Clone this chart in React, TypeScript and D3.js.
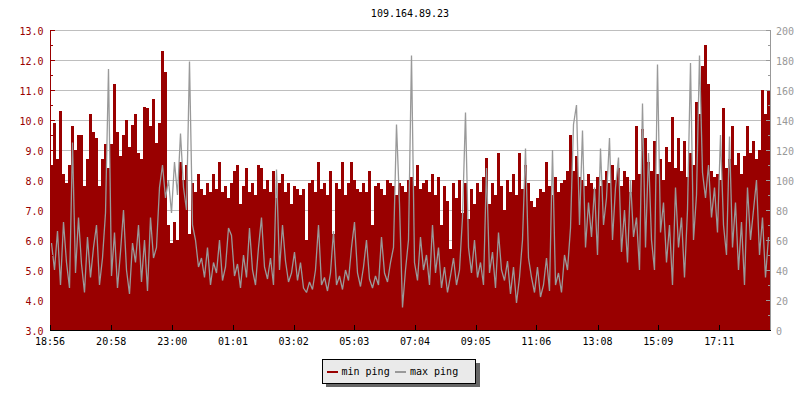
import React from "react";
import * as d3 from "d3";

const title = "109.164.89.23";
const startTime = new Date(2021, 0, 1, 18, 56);
const spanMinutes = 1436;
const xTickMinutes = [0, 122, 244, 365, 486, 607, 728, 849, 970, 1092, 1213, 1335];
const leftTicks = [3, 4, 5, 6, 7, 8, 9, 10, 11, 12, 13];
const rightTicks = [0, 20, 40, 60, 80, 100, 120, 140, 160, 180, 200];
const seriesNames = ["min ping", "max ping"];

// min ping (left axis, ms)
const minPing = [
  8.5, 9.9, 8.7, 10.3, 8.2, 7.9, 8.5, 9.8, 9.0, 9.5,
  9.5, 7.8, 8.7, 10.2, 9.6, 9.4, 7.8, 8.7, 9.2, 8.4,
  9.2, 11.2, 9.6, 8.8, 9.5, 10.0, 9.1, 9.85, 10.2, 8.9,
  8.7, 10.45, 10.4, 9.8, 10.7, 9.25, 9.9, 12.3, 11.6, 6.5,
  5.9, 6.6, 6.0, 8.6, 8.0, 8.5, 6.2, 7.9, 7.6, 8.2,
  7.7, 7.5, 7.9, 7.6, 8.2, 7.7, 8.6, 7.6, 7.8, 7.4,
  7.9, 8.3, 8.5, 7.2, 7.8, 8.4, 7.6, 7.9, 7.5, 8.5,
  8.4, 7.7, 8.0, 7.6, 8.3, 7.4, 7.9, 8.2, 7.6, 7.9,
  7.2, 7.8, 7.7, 7.5, 7.7, 6.0, 7.9, 8.0, 7.6, 8.6,
  7.7, 7.9, 7.5, 8.3, 6.2, 7.9, 7.7, 8.6, 7.5, 7.9,
  8.6, 8.0, 7.7, 7.6, 7.9, 7.6, 8.3, 6.5, 7.8, 7.9,
  7.7, 7.5, 8.0, 7.9, 7.8, 7.5, 7.9, 7.8, 7.6, 8.0,
  8.1, 7.8, 8.5, 7.7, 7.9, 8.0, 7.6, 8.2, 7.5, 8.1,
  6.5, 7.8, 7.3, 5.7, 7.9, 7.4, 8.0, 6.9, 7.9, 6.7,
  7.7, 7.2, 7.9, 7.6, 8.1, 8.75, 7.2, 7.9, 7.5, 8.9,
  7.8, 7.0, 8.0, 7.6, 8.2, 7.5, 8.9, 7.7, 8.5, 7.9,
  7.3, 7.1, 7.4, 7.7, 7.6, 8.6, 7.8, 7.5, 8.1, 7.6,
  7.9, 8.0, 8.3, 9.5, 8.3, 8.8, 8.1, 8.0, 7.8, 8.2,
  7.9, 7.7, 8.1, 7.8, 8.0, 8.3, 7.9, 8.5, 8.0, 8.4,
  7.8, 8.3, 8.1, 7.6, 8.0, 9.8, 8.2, 9.7, 9.4, 8.6,
  8.3, 9.3, 8.2, 8.7, 8.0, 9.1, 8.6, 10.1, 8.4, 9.4,
  8.3, 9.3, 8.1, 8.9, 8.5, 10.6, 10.2, 11.8, 12.5, 11.2,
  8.3, 8.1, 8.2, 8.0, 10.4, 8.4, 8.7, 9.8, 8.5, 8.9,
  8.2, 8.8, 9.8, 8.9, 9.3, 8.7, 9.0, 11.0, 10.2, 11.0,
];

// max ping (right axis, ms)
const maxPing = [
  58, 40, 66, 30, 72, 45, 28, 125, 38, 75,
  44, 25, 62, 35, 55, 70, 30, 48, 78, 174,
  36, 65, 28, 52, 80, 40, 24, 58, 45, 70,
  32, 60, 26, 75, 48, 55, 95, 110, 88, 100,
  78, 112, 90, 131, 95, 80, 179, 70, 60, 42,
  48, 35, 55, 30, 45, 38, 60, 33, 42, 68,
  63, 36, 44, 28, 50, 35, 68, 40, 30, 55,
  75, 42, 34, 48, 30, 107, 40, 70, 46, 32,
  38, 52, 33, 45, 28, 25, 32, 27, 40, 70,
  30, 35, 26, 38, 66, 30, 36, 27, 40, 33,
  55, 72, 38, 29, 42, 60, 34, 28, 36, 30,
  62, 38, 32, 45, 55, 137, 84, 15, 40, 60,
  183, 45, 33, 62, 40, 50, 30, 70, 38, 55,
  28, 42, 25, 36, 48, 30, 40, 75, 145, 55,
  38, 60, 35, 45, 30, 108, 38, 52, 28, 65,
  40, 33, 46, 24, 42, 18, 35, 60, 121, 48,
  35, 25, 42, 22, 30, 48, 26, 120, 30, 38,
  25, 50, 40, 68, 137, 150, 70, 133, 55, 85,
  62, 95, 50, 121, 70, 88, 128, 60, 95, 115,
  52, 80, 45, 100, 62, 75, 40, 151, 55, 118,
  60, 40, 177, 65, 85, 45, 70, 30, 95, 55,
  75, 35, 80, 178, 60, 90, 183, 105, 88, 110,
  75, 95, 65, 130, 70, 50, 129, 55, 85, 40,
  72, 30, 95, 60, 80, 100, 50, 75, 35, 62,
];

const RED = "#990000";
const GRAY = "#999999";
const FONT = "'DejaVu Sans Mono', monospace";

export default function App() {
  const W = 800;
  const H = 400;
  const L = 50, R = 770, T = 30, B = 330;
  const endTime = d3.timeMinute.offset(startTime, spanMinutes);
  const x = d3.scaleTime().domain([startTime, endTime]).range([L, R]);
  const yL = d3.scaleLinear().domain([3, 13]).range([B, T]);
  const yR = d3.scaleLinear().domain([0, 200]).range([B, T]);
  const fmt = d3.timeFormat("%H:%M");

  const n = minPing.length;
  const stepMs = (spanMinutes * 60000) / n;
  const tAt = (i: number) => new Date(startTime.getTime() + i * stepMs);
  const minPts: [Date, number][] = minPing.map((v, i) => [tAt(i), v]);
  minPts.push([tAt(n), minPing[n - 1]]);
  const maxPts: [Date, number][] = maxPing.map((v, i) => [tAt(i + 0.5), v]);

  const area = d3
    .area<[Date, number]>()
    .x((d) => Math.round(x(d[0])))
    .y0(B)
    .y1((d) => yL(d[1]))
    .curve(d3.curveStepAfter);
  const line = d3
    .line<[Date, number]>()
    .x((d) => x(d[0]))
    .y((d) => yR(d[1]))
    .curve(d3.curveLinear);

  const leftMinor = d3.range(3, 13.01, 0.5);
  const rightMinor = d3.range(0, 200.1, 10);
  const xTicks = xTickMinutes.map((m) => d3.timeMinute.offset(startTime, m));

  return (
    <svg
      width={W}
      height={H}
      style={{ position: "fixed", left: 0, top: 0, background: "#fff" }}
      fontFamily={FONT}
      fontSize={10}
    >
      <rect x={0} y={0} width={W} height={H} fill="#fff" />
      <text x={(L + R) / 2} y={16.5} textAnchor="middle" fill="#000">
        {title}
      </text>
      {/* grid */}
      <g shapeRendering="crispEdges">
        {leftTicks
          .filter((v) => v > 3)
          .map((v) => (
            <line key={v} x1={L} x2={R} y1={Math.round(yL(v)) + 0.5} y2={Math.round(yL(v)) + 0.5} stroke="#bebebe" />
          ))}
      </g>
      {/* min ping area */}
      <path d={area(minPts) || ""} fill={RED} shapeRendering="crispEdges" />
      {/* max ping line */}
      <clipPath id="plotclip">
        <rect x={L} y={T} width={R - L} height={B - T} />
      </clipPath>
      <path d={line(maxPts) || ""} fill="none" stroke={GRAY} strokeWidth={1.3} strokeLinejoin="miter" strokeMiterlimit={2} clipPath="url(#plotclip)" />
      {/* left axis */}
      <g shapeRendering="crispEdges">
        <line x1={L + 0.5} x2={L + 0.5} y1={T} y2={B + 1} stroke={RED} />
        {leftMinor.map((v) => {
          const major = Math.abs(v - Math.round(v)) < 1e-6;
          const yy = Math.round(yL(v)) + 0.5;
          return <line key={v} x1={L} x2={L + (major ? 5 : 3)} y1={yy} y2={yy} stroke={RED} />;
        })}
      </g>
      {leftTicks.map((v) => (
        <text key={v} x={43.5} y={yL(v) + 5} textAnchor="end" fill={RED}>
          {v.toFixed(1)}
        </text>
      ))}
      {/* right axis */}
      <g shapeRendering="crispEdges">
        <line x1={R + 0.5} x2={R + 0.5} y1={T} y2={B + 1} stroke={GRAY} />
        {rightMinor.map((v) => {
          const major = v % 20 === 0;
          const yy = Math.round(yR(v)) + 0.5;
          return <line key={v} x1={R + 1} x2={R + 1 - (major ? 5 : 3)} y1={yy} y2={yy} stroke={GRAY} />;
        })}
      </g>
      {rightTicks.map((v) => (
        <text key={v} x={776} y={yR(v) + 5} textAnchor="start" fill={GRAY}>
          {String(v)}
        </text>
      ))}
      {/* bottom axis */}
      <g shapeRendering="crispEdges">
        <line x1={L} x2={R + 1} y1={B + 0.5} y2={B + 0.5} stroke="#000" />
        {xTicks.map((t, i) => {
          const xx = Math.round(x(t)) + 0.5;
          return <line key={i} x1={xx} x2={xx} y1={B - 5} y2={B} stroke="#000" />;
        })}
      </g>
      {xTicks.map((t, i) => (
        <text key={i} x={x(t)} y={345} textAnchor="middle" fill="#000">
          {fmt(t)}
        </text>
      ))}
      {/* legend */}
      <g shapeRendering="crispEdges">
        <rect x={326} y={363} width={154} height={24} fill="#666" />
        <rect x={322.5} y={359.5} width={153} height={24} fill="#eaeaea" stroke="#000" />
        <line x1={327} x2={338} y1={372} y2={372} stroke={RED} strokeWidth={2} />
        <line x1={395} x2={406} y1={372} y2={372} stroke={GRAY} strokeWidth={2} />
      </g>
      <text x={341.5} y={374.5} fill="#000">
        {seriesNames[0]}
      </text>
      <text x={410} y={374.5} fill="#000">
        {seriesNames[1]}
      </text>
    </svg>
  );
}
